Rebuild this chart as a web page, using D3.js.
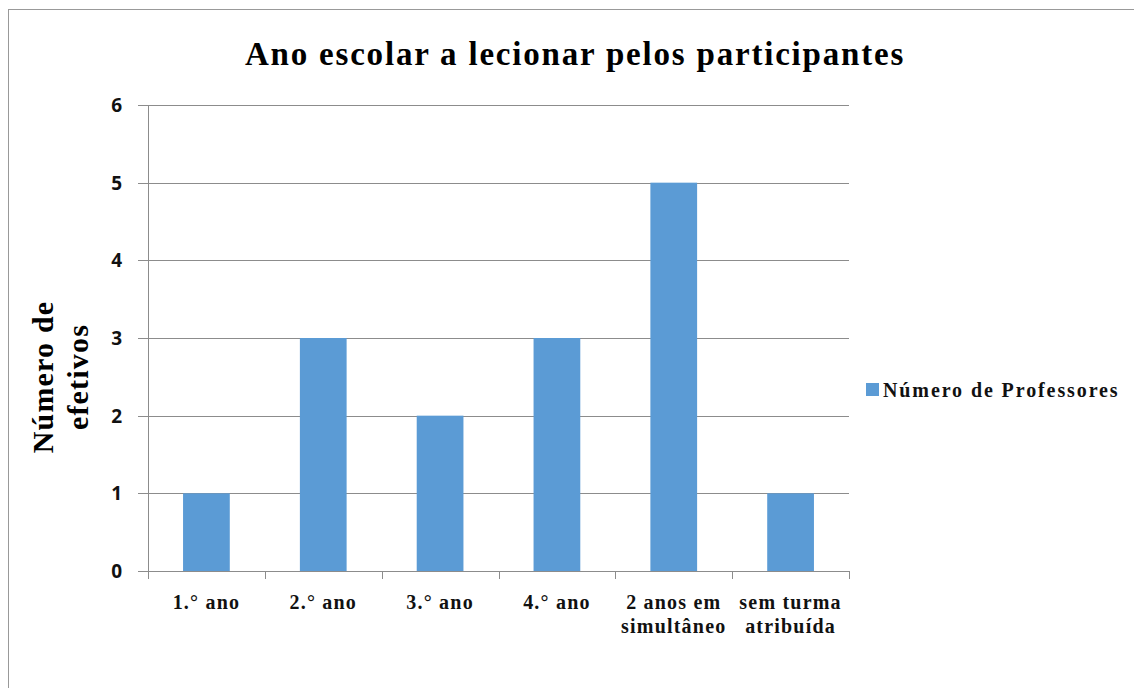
<!DOCTYPE html>
<html>
<head>
<meta charset="utf-8">
<script src="https://cdn.jsdelivr.net/npm/d3@7"></script>
<style>
  body { margin: 0; background: #fff; }
  svg { display: block; }
</style>
</head>
<body>
<svg></svg>
<script>
var width = 1134;
var height = 688;

var categories = [["1.° ano"], ["2.° ano"], ["3.° ano"], ["4.° ano"],
                  ["2 anos em", "simultâneo"], ["sem turma", "atribuída"]];
var professores = [1, 3, 2, 3, 5, 1];
var yTicks = [0, 1, 2, 3, 4, 5, 6];

var plot = {left: 148, right: 849, top: 105, bottom: 571};
var serif = "'Liberation Serif', 'Times New Roman', serif";
var sans = "'Open Sans', 'Liberation Sans', sans-serif";

var svg = d3.select('svg')
	.attr('width', width)
	.attr('height', height);

// outer frame
svg.append('rect')
	.attr('x', 8.5).attr('y', 9.5)
	.attr('width', 1200).attr('height', 800)
	.attr('fill', 'none')
	.attr('stroke', '#999');

svg.append('text')
	.attr('x', 575)
	.attr('y', 65)
	.attr('text-anchor', 'middle')
	.attr('font-family', serif)
	.attr('font-weight', 'bold')
	.attr('font-size', '33px')
	.attr('letter-spacing', '1.8px')
	.text('Ano escolar a lecionar pelos participantes');

var x = d3.scaleBand()
	.domain(d3.range(categories.length))
	.range([plot.left, plot.right])
	.paddingInner(0.6)
	.paddingOuter(0.3);

var y = d3.scaleLinear()
	.domain([0, 6])
	.range([plot.bottom, plot.top]);

// gridlines
svg.append('g')
	.selectAll('line')
	.data(yTicks)
	.enter()
	.append('line')
		.attr('x1', plot.left - 10)
		.attr('x2', plot.right)
		.attr('y1', d => Math.round(y(d)) + 0.5)
		.attr('y2', d => Math.round(y(d)) + 0.5)
		.attr('stroke', '#8c8c8c')
		.attr('stroke-width', 1);

// y tick labels
svg.append('g')
	.selectAll('text')
	.data(yTicks)
	.enter()
	.append('text')
		.attr('x', 122)
		.attr('y', d => y(d) + 7)
		.attr('text-anchor', 'end')
		.attr('font-family', sans)
		.attr('font-weight', 'bold')
		.attr('font-size', '19px')
		.attr('fill', '#111')
		.text(d => d);

// bars
svg.append('g')
	.selectAll('rect')
	.data(professores)
	.enter()
	.append('rect')
		.attr('x', (d, i) => x(i))
		.attr('y', d => y(d))
		.attr('width', x.bandwidth())
		.attr('height', d => plot.bottom - y(d))
		.attr('fill', '#5b9bd5');

// y axis line
svg.append('line')
	.attr('x1', plot.left + 0.5).attr('x2', plot.left + 0.5)
	.attr('y1', plot.top).attr('y2', plot.bottom + 8)
	.attr('stroke', '#8c8c8c');

// x axis ticks at category boundaries
var step = x.step();
var bounds = d3.range(categories.length + 1).map(i => plot.left + i * step);
svg.append('g')
	.selectAll('line')
	.data(bounds)
	.enter()
	.append('line')
		.attr('x1', d => Math.round(d) + 0.5)
		.attr('x2', d => Math.round(d) + 0.5)
		.attr('y1', plot.bottom)
		.attr('y2', plot.bottom + 8)
		.attr('stroke', '#8c8c8c');

// x labels
var xl = svg.append('g')
	.selectAll('text')
	.data(categories)
	.enter()
	.append('text')
		.attr('text-anchor', 'middle')
		.attr('font-family', serif)
		.attr('font-weight', 'bold')
		.attr('font-size', '20px')
		.attr('letter-spacing', '1.2px')
		.attr('fill', '#111');
xl.selectAll('tspan')
	.data((d, i) => d.map(t => ({t: t, i: i})))
	.enter()
	.append('tspan')
		.attr('x', d => x(d.i) + x.bandwidth() / 2)
		.attr('y', (d, j) => 609 + j * 24)
		.text(d => d.t);

// y axis title
var yt = svg.append('text')
	.attr('transform', 'translate(0,377) rotate(-90)')
	.attr('text-anchor', 'middle')
	.attr('font-family', serif)
	.attr('font-weight', 'bold')
	.attr('font-size', '30px')
	.attr('letter-spacing', '1.2px');
yt.append('tspan').attr('x', 0).attr('y', 53).text('Número de');
yt.append('tspan').attr('x', 0).attr('y', 88).text('efetivos');

// legend
svg.append('rect')
	.attr('x', 866).attr('y', 383)
	.attr('width', 13).attr('height', 13)
	.attr('fill', '#5b9bd5');
svg.append('text')
	.attr('x', 883)
	.attr('y', 397)
	.attr('font-family', serif)
	.attr('font-weight', 'bold')
	.attr('font-size', '20px')
	.attr('letter-spacing', '1.9px')
	.attr('fill', '#111')
	.text('Número de Professores');
</script>
</body>
</html>
